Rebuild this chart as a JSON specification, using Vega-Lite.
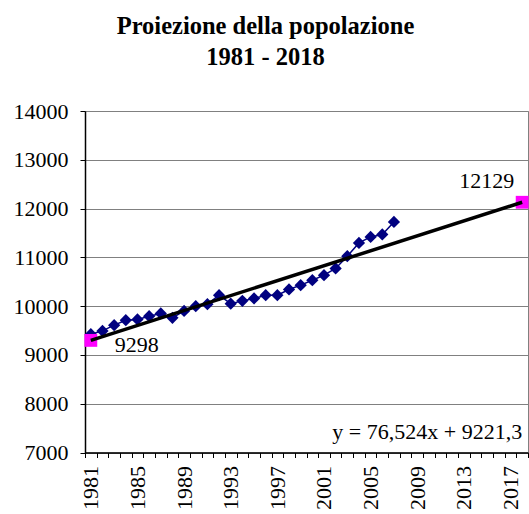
{
  "$schema": "https://vega.github.io/schema/vega-lite/v6.json",
  "width": 443,
  "height": 341.5,
  "autosize": {"type": "none"},
  "padding": {"left": 85, "top": 111, "right": 1, "bottom": 61.5},
  "background": "white",
  "config": {
    "view": {"stroke": "#808080", "strokeWidth": 1},
    "font": "Liberation Serif"
  },
  "title": {
    "text": ["Proiezione della popolazione", "1981 - 2018"],
    "font": "Liberation Serif",
    "fontSize": 24.5,
    "fontWeight": "bold",
    "color": "black",
    "anchor": "middle",
    "frame": "group",
    "dx": -41,
    "baseline": "alphabetic",
    "lineHeight": 31,
    "offset": 11
  },
  "datasets": {
    "observed": [
      {"year": 1981, "population": 9425},
      {"year": 1982, "population": 9493},
      {"year": 1983, "population": 9610},
      {"year": 1984, "population": 9712},
      {"year": 1985, "population": 9727},
      {"year": 1986, "population": 9794},
      {"year": 1987, "population": 9850},
      {"year": 1988, "population": 9760},
      {"year": 1989, "population": 9903},
      {"year": 1990, "population": 9999},
      {"year": 1991, "population": 10040},
      {"year": 1992, "population": 10225},
      {"year": 1993, "population": 10050},
      {"year": 1994, "population": 10108},
      {"year": 1995, "population": 10157},
      {"year": 1996, "population": 10225},
      {"year": 1997, "population": 10225},
      {"year": 1998, "population": 10342},
      {"year": 1999, "population": 10430},
      {"year": 2000, "population": 10532},
      {"year": 2001, "population": 10635},
      {"year": 2002, "population": 10772},
      {"year": 2003, "population": 11024},
      {"year": 2004, "population": 11296},
      {"year": 2005, "population": 11419},
      {"year": 2006, "population": 11469},
      {"year": 2007, "population": 11727}
    ],
    "projection": [
      {"year": 1981, "population": 9298, "label": "9298"},
      {"year": 2018, "population": 12129, "label": "12129"}
    ],
    "equation": [
      {"year": 2018, "population": 7275, "label": "y = 76,524x + 9221,3"}
    ]
  },
  "encoding": {
    "x": {
      "field": "year",
      "type": "ordinal",
      "scale": {
        "domain": [1981,1982,1983,1984,1985,1986,1987,1988,1989,1990,1991,1992,1993,1994,1995,1996,1997,1998,1999,2000,2001,2002,2003,2004,2005,2006,2007,2008,2009,2010,2011,2012,2013,2014,2015,2016,2017,2018],
        "paddingInner": 0,
        "paddingOuter": 0
      },
      "axis": {
        "title": null,
        "labelAngle": -90,
        "labelFont": "Liberation Serif",
        "labelFontSize": 22,
        "labelColor": "black",
        "labelPadding": 8,
        "labelExpr": "(datum.value - 1981) % 4 === 0 ? datum.label : ''",
        "tickBand": "extent",
        "tickColor": "black",
        "tickSize": 5,
        "domainColor": "black",
        "domainWidth": 1.5,
        "grid": false,
        "labelOverlap": false
      }
    },
    "y": {
      "field": "population",
      "type": "quantitative",
      "scale": {"domain": [7000, 14000], "nice": false, "zero": false},
      "axis": {
        "title": null,
        "values": [7000, 8000, 9000, 10000, 11000, 12000, 13000, 14000],
        "format": "d",
        "labelFont": "Liberation Serif",
        "labelFontSize": 22,
        "labelColor": "black",
        "labelPadding": 12,
        "tickColor": "black",
        "tickSize": 5,
        "domainColor": "black",
        "domainWidth": 1.5,
        "grid": true,
        "gridColor": "#808080",
        "gridWidth": 1
      }
    }
  },
  "layer": [
    {
      "data": {"name": "observed"},
      "mark": {"type": "line", "color": "#000080", "strokeWidth": 1.5}
    },
    {
      "data": {"name": "observed"},
      "mark": {"type": "point", "shape": "diamond", "filled": true, "color": "#000080", "size": 150, "opacity": 1}
    },
    {
      "data": {"name": "projection"},
      "mark": {"type": "point", "shape": "square", "filled": true, "color": "#FF00FF", "size": 165, "opacity": 1}
    },
    {
      "data": {"name": "projection"},
      "mark": {"type": "line", "color": "black", "strokeWidth": 3.5}
    },
    {
      "data": {"name": "projection"},
      "transform": [{"filter": "datum.year === 1981"}],
      "mark": {"type": "text", "align": "left", "baseline": "alphabetic", "dx": 24, "dy": 12, "font": "Liberation Serif", "fontSize": 22, "color": "black"},
      "encoding": {"text": {"field": "label"}}
    },
    {
      "data": {"name": "projection"},
      "transform": [{"filter": "datum.year === 2018"}],
      "mark": {"type": "text", "align": "right", "baseline": "alphabetic", "dx": -8, "dy": -14.5, "font": "Liberation Serif", "fontSize": 22, "color": "black"},
      "encoding": {"text": {"field": "label"}}
    },
    {
      "data": {"name": "equation"},
      "mark": {"type": "text", "align": "right", "baseline": "alphabetic", "dx": 0, "font": "Liberation Serif", "fontSize": 22, "color": "black"},
      "encoding": {"text": {"field": "label"}}
    }
  ]
}
